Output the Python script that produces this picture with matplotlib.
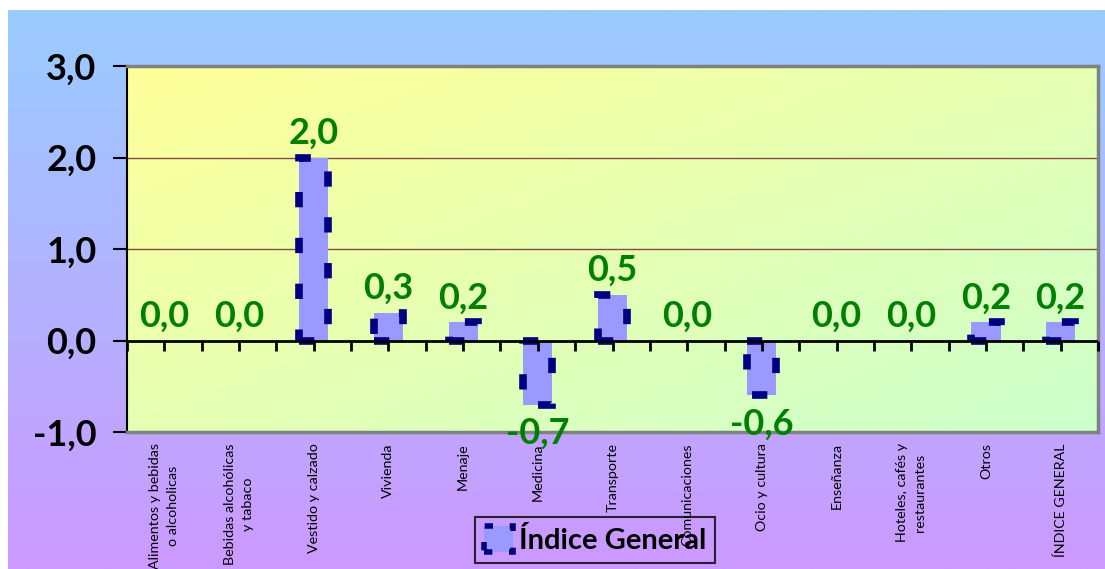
#!/usr/bin/env python

# Bar chart of price index variation by group, Excel-like gradients.

import matplotlib.pyplot as plt
import numpy as np
from matplotlib.colors import LinearSegmentedColormap
from matplotlib.patches import Patch

categories = [
    "Alimentos y bebidas\no alcoholicas",
    "Bebidas alcohólicas\ny tabaco",
    "Vestido y calzado",
    "Vivienda",
    "Menaje",
    "Medicina",
    "Transporte",
    "Comunicaciones",
    "Ocio y cultura",
    "Enseñanza",
    "Hoteles, cafés y\nrestaurantes",
    "Otros",
    "ÍNDICE GENERAL",
]
values = [0.0, 0.0, 2.0, 0.3, 0.2, -0.7, 0.5, 0.0, -0.6, 0.0, 0.0, 0.2, 0.2]
yticks = [-1, 0, 1, 2, 3]
series_name = "Índice General"

plt.rcParams["font.family"] = ["Lato", "DejaVu Sans"]

W, H = 1105, 569
fig = plt.figure(figsize=(W / 100, H / 100), dpi=100)

# figure background: blue to violet, vertical
bg = fig.add_axes([8 / W, 0, 1 - 8 / W, 1 - 10 / H], zorder=-10)
bg_cmap = LinearSegmentedColormap.from_list("bg", ["#99CCFF", "#CC99FF"])
bg.imshow(np.linspace(0, 1, 256).reshape(-1, 1), cmap=bg_cmap,
          aspect="auto", extent=[0, 1, 0, 1], origin="upper")
bg.axis("off")

# plot area
ax = fig.add_axes([127 / W, 1 - 432 / H, (1098 - 127) / W, (432 - 66) / H])
x = np.arange(len(categories))
xlo, xhi = -0.5, len(categories) - 0.5

gx, gy = np.meshgrid(np.linspace(0, 1, 200), np.linspace(0, 1, 200))
area_cmap = LinearSegmentedColormap.from_list("area", ["#FFFF99", "#CCFFCC"])
ax.imshow((gx + gy) / 2, cmap=area_cmap, aspect="auto",
          extent=[xlo, xhi, -1, 3], origin="upper", zorder=0)

for y in [1, 2]:
    ax.axhline(y, color="#8B4A4A", lw=1, zorder=1)

vals = np.array(values)
nz = vals != 0  # zero-height bars show no border in the original
ax.bar(x[nz], vals[nz], width=0.39, color="#9999FF", edgecolor="#000080",
       linewidth=5.5, linestyle=(0, (2, 4)), zorder=2)

ax.axhline(0, color="black", lw=2, zorder=3)
tick_x = np.arange(xlo, xhi + 0.01, 0.5)
ax.plot(tick_x, np.zeros_like(tick_x), ls="none", marker=3, markersize=7,
        mew=2, color="black", zorder=3, clip_on=False)

for xi, v in zip(x, values):
    txt = f"{v:.1f}".replace(".", ",")
    if v >= 0:
        ax.annotate(txt, (xi, v), xytext=(0, 10), textcoords="offset points",
                    ha="center", va="baseline", color="#008000",
                    fontsize=26, fontweight="bold", zorder=4)
    else:
        ax.annotate(txt, (xi, v), xytext=(0, -9), textcoords="offset points",
                    ha="center", va="top", color="#008000",
                    fontsize=26, fontweight="bold", zorder=4,
                    annotation_clip=False)

ax.set_xlim(xlo, xhi)
ax.set_ylim(-1, 3)
ax.set_yticks(yticks)
ax.set_yticklabels([f"{t:.1f}".replace(".", ",") for t in yticks],
                   fontsize=26, fontweight="bold")
ax.tick_params(axis="y", length=10, width=1.5, pad=12)
ax.set_xticks(x)
ax.set_xticklabels(categories, rotation=90, fontsize=10.3,
                   multialignment="center", linespacing=1.6)
ax.tick_params(axis="x", length=0, pad=8)

for side in ["top", "right", "bottom"]:
    ax.spines[side].set_color("#808080")
    ax.spines[side].set_linewidth(2.5)
ax.spines["left"].set_color("black")
ax.spines["left"].set_linewidth(1.5)

handle = Patch(facecolor="#9999FF", edgecolor="#000080", linewidth=4,
               linestyle=(0, (1.5, 3)))
leg = fig.legend([handle], [series_name], loc="upper left",
                 bbox_to_anchor=(475 / W, 1 - 517 / H), borderaxespad=0,
                 prop={"size": 21, "weight": "bold"}, frameon=True,
                 fancybox=False, handlelength=1.0, handleheight=1.0,
                 handletextpad=0.2, borderpad=0.3)
leg.get_frame().set_edgecolor("black")
leg.get_frame().set_linewidth(1.5)
leg.get_frame().set_facecolor("none")

fig.savefig("out.png", dpi=100)
